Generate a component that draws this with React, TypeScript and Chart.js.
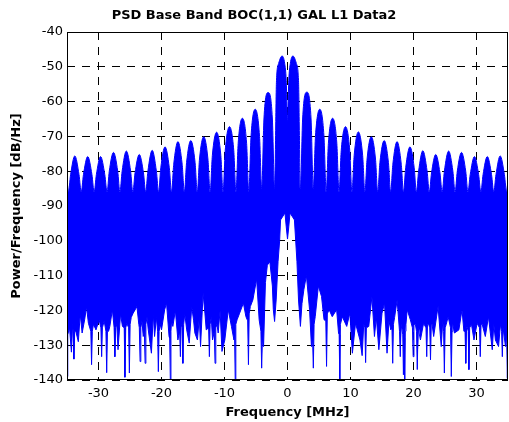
import React, { useEffect, useRef } from 'react';
import { Chart, registerables } from 'chart.js';

Chart.register(...registerables);

const TITLE = 'PSD Base Band BOC(1,1) GAL L1 Data2';
const X_LABEL = 'Frequency [MHz]';
const Y_LABEL = 'Power/Frequency [dB/Hz]';

const xTickValues = [-30, -20, -10, 0, 10, 20, 30];
const yTickValues = [-140, -130, -120, -110, -100, -90, -80, -70, -60, -50, -40];

// Upper edge of the PSD trace: lobe nulls, flanks and peaks [MHz, dB/Hz]
const upperEdge: [number, number][] = [
  [-35.0, -82], [-34.78, -86],
  [-34.43, -81], [-33.76, -75.6], [-33.09, -81], [-32.74, -86],
  [-32.39, -81], [-31.71, -75.8], [-31.04, -81], [-30.69, -86],
  [-30.34, -81], [-29.67, -75.8], [-29.0, -81], [-28.64, -86],
  [-28.29, -80], [-27.62, -74.6], [-26.95, -80], [-26.6, -86],
  [-26.25, -80], [-25.58, -74.2], [-24.9, -80], [-24.55, -86],
  [-24.2, -80.5], [-23.53, -75.2], [-22.86, -80.5], [-22.51, -86],
  [-22.16, -80], [-21.48, -74.0], [-20.81, -80], [-20.46, -86],
  [-20.11, -79], [-19.44, -73.0], [-18.76, -79], [-18.41, -86],
  [-18.06, -78], [-17.39, -71.5], [-16.72, -78], [-16.37, -86],
  [-16.02, -77.5], [-15.35, -71.2], [-14.67, -77.5], [-14.32, -86],
  [-13.97, -76.5], [-13.3, -70.1], [-12.63, -76.5], [-12.28, -86],
  [-11.93, -75.5], [-11.25, -68.8], [-10.58, -75.5], [-10.23, -86],
  [-9.88, -74], [-9.21, -67.2], [-8.53, -74], [-8.18, -86],
  [-7.83, -72], [-7.16, -64.8], [-6.49, -72], [-6.14, -86],
  [-5.79, -70], [-5.12, -62.2], [-4.44, -70], [-4.09, -85],
  [-3.74, -65], [-3.07, -57.4], [-2.4, -65], [-2.05, -85],
  [-1.75, -54], [-1.4, -49], [-0.86, -46.9], [-0.45, -49], [-0.2, -54],
  [0, -66],
  [0.2, -54], [0.45, -49], [0.86, -46.9], [1.4, -49], [1.75, -54], [2.05, -85],
  [2.4, -65], [3.07, -57.3], [3.74, -65], [4.09, -85],
  [4.44, -70], [5.12, -62.2], [5.79, -70], [6.14, -86],
  [6.49, -72], [7.16, -64.8], [7.83, -72], [8.18, -86],
  [8.53, -74], [9.21, -67.2], [9.88, -74], [10.23, -86],
  [10.58, -75.5], [11.25, -68.7], [11.93, -75.5], [12.28, -86],
  [12.63, -76.5], [13.3, -70.1], [13.97, -76.5], [14.32, -86],
  [14.67, -77.5], [15.35, -71.2], [16.02, -77.5], [16.37, -86],
  [16.72, -78], [17.39, -71.5], [18.06, -78], [18.41, -86],
  [18.76, -79], [19.44, -73.0], [20.11, -79], [20.46, -86],
  [20.81, -80], [21.48, -74.1], [22.16, -80], [22.51, -86],
  [22.86, -80.5], [23.53, -75.2], [24.2, -80.5], [24.55, -86],
  [24.9, -80], [25.58, -74.2], [26.25, -80], [26.6, -86],
  [26.95, -80], [27.62, -74.6], [28.29, -80], [28.64, -86],
  [29.0, -81], [29.67, -75.8], [30.34, -81], [30.69, -86],
  [31.04, -81], [31.71, -75.8], [32.39, -81], [32.74, -86],
  [33.09, -81], [33.76, -75.6], [34.43, -81], [34.78, -86],
  [35.0, -82],
];

// Lower (noisy) edge of the PSD trace [MHz, dB/Hz]
const lowerEdge: [number, number][] = [
  [-35.0, -139], [-34.88, -127], [-34.6, -125], [-34.3, -132], [-34.1, -124], [-34.02, -126],
  [-33.9, -134], [-33.78, -126], [-33.6, -126], [-33.2, -129], [-32.9, -121], [-32.6, -126.5],
  [-32.2, -122.7], [-31.9, -119], [-31.6, -123.7], [-31.22, -126], [-31.1, -135.6], [-30.98, -126],
  [-30.8, -124], [-30.4, -125.6], [-29.9, -122.7], [-29.62, -125], [-29.5, -133.3], [-29.38, -125],
  [-29.1, -123], [-28.82, -126], [-28.7, -137.9], [-28.58, -126], [-28.4, -126], [-28.2, -124.6],
  [-27.8, -119.8], [-27.52, -125], [-27.4, -133.3], [-27.28, -125], [-27.1, -124], [-26.9, -131.3],
  [-26.5, -121], [-26.2, -124.6], [-25.92, -125], [-25.8, -139.2], [-25.68, -125], [-25.5, -123.7],
  [-25.22, -125], [-25.1, -138], [-24.98, -124], [-24.8, -122], [-24.5, -120.8], [-23.9, -118.9],
  [-23.6, -124], [-23.52, -125], [-23.4, -134.7], [-23.28, -125], [-23.1, -123], [-22.9, -127.5],
  [-22.72, -126], [-22.6, -135.2], [-22.48, -124], [-22.3, -122], [-22.1, -125.6], [-21.6, -132.3],
  [-21.3, -121], [-21.1, -127.5], [-20.8, -122], [-20.62, -126], [-20.5, -137.6], [-20.38, -126],
  [-20.2, -124], [-20.0, -125.6], [-19.5, -119.8], [-19.2, -117.9], [-18.8, -127.5], [-18.7, -128],
  [-18.6, -140], [-18.5, -126], [-18.4, -123], [-18.2, -124.6], [-17.8, -120], [-17.4, -128.5],
  [-17.12, -126], [-17.0, -133.3], [-16.88, -124], [-16.72, -125], [-16.6, -135.2], [-16.48, -124],
  [-16.3, -121], [-16.0, -125.6], [-15.6, -129.4], [-15.2, -118.9], [-14.9, -123], [-14.7, -126.5],
  [-14.3, -128.5], [-14.0, -122], [-13.8, -130.4], [-13.4, -115.1], [-13.1, -121], [-12.9, -125.6],
  [-12.52, -125], [-12.4, -133.3], [-12.28, -124], [-12.1, -122], [-11.9, -128.5], [-11.62, -126],
  [-11.5, -135.2], [-11.38, -125], [-11.2, -124], [-11.0, -126.5], [-10.7, -120], [-10.4, -131.8],
  [-9.95, -128.5], [-9.4, -119.8], [-8.9, -124.6], [-8.5, -128.5], [-8.4, -127], [-8.3, -140],
  [-8.2, -124], [-8.0, -122.7], [-7.6, -120.8], [-7.0, -117.9], [-6.6, -121.8], [-6.32, -123],
  [-6.2, -135.6], [-6.08, -121], [-5.9, -118.9], [-5.5, -117], [-4.9, -111], [-4.5, -122.7],
  [-4.22, -126], [-4.1, -136.6], [-3.98, -128], [-3.8, -130.4], [-3.5, -112], [-3.2, -107],
  [-2.8, -106], [-2.4, -113], [-2.25, -119.8], [-2.05, -123.2], [-1.8, -117], [-1.5, -106],
  [-1.25, -100], [-1.1, -94], [-0.4, -92], [-0.2, -96], [0, -99.5],
  [0.2, -96], [0.4, -92], [1.1, -94], [1.3, -100], [1.5, -106], [1.75, -117],
  [2.05, -124.6], [2.3, -118], [2.6, -114], [3.0, -110], [3.5, -119.8], [3.8, -130.4],
  [3.98, -128], [4.1, -136.6], [4.22, -124], [4.4, -121.8], [4.9, -113], [5.4, -116],
  [5.8, -122.7], [6.08, -123], [6.2, -136.1], [6.32, -121], [6.6, -119.8], [7.1, -121.8],
  [7.8, -119.8], [8.1, -126.5], [8.2, -127], [8.3, -140], [8.4, -124], [8.7, -121.8],
  [9.4, -124.6], [9.9, -120.8], [10.3, -132.3], [10.8, -123.7], [11.5, -128.5], [11.85, -133],
  [12.1, -124], [12.28, -125], [12.4, -135], [12.52, -125], [12.9, -124.6], [13.4, -116],
  [13.8, -127.5], [14.1, -122], [14.5, -131.3], [15.0, -120.8], [15.4, -117.9], [15.8, -132.3],
  [16.1, -123], [16.4, -125.6], [16.58, -125], [16.7, -135.2], [16.82, -124], [17.0, -122],
  [17.4, -117], [17.78, -126], [17.9, -133.3], [18.02, -124], [18.1, -124], [18.3, -127],
  [18.4, -138.5], [18.5, -128], [18.6, -140], [18.7, -126], [18.8, -124], [19.0, -119.8],
  [19.5, -122.7], [19.83, -125], [19.95, -133.3], [20.07, -124], [20.3, -124], [20.48, -126],
  [20.6, -137], [20.72, -125], [20.85, -125], [21.1, -128.5], [21.6, -123.7], [21.98, -125],
  [22.1, -133.3], [22.22, -124], [22.4, -124], [22.58, -125], [22.7, -134.2], [22.82, -124],
  [22.95, -124], [23.2, -127.5], [23.9, -118.9], [24.4, -130.4], [24.65, -123], [24.78, -126],
  [24.9, -138], [25.02, -125], [25.2, -124], [25.5, -121.8], [25.88, -125], [26.0, -139],
  [26.12, -126], [26.25, -124], [26.5, -126.5], [27.2, -125.6], [27.7, -119.8], [28.0, -126],
  [28.18, -126], [28.3, -135.2], [28.42, -125], [28.55, -125], [28.68, -126], [28.8, -137],
  [28.92, -125], [29.2, -124], [29.6, -128.5], [30.1, -123.7], [30.48, -125], [30.6, -133.3],
  [30.72, -124], [30.9, -124], [31.4, -127.5], [31.9, -121.8], [32.5, -131.3], [32.75, -124],
  [33.0, -128.5], [33.5, -130.4], [33.8, -124], [33.98, -126], [34.1, -133.3], [34.22, -125],
  [34.6, -130.4], [34.78, -127], [34.9, -139.5], [35.0, -126],
];

const BLUE = '#0000ff';
const FONT = 'DejaVu Sans';

const framePlugin = {
  id: 'axesFrame',
  afterDatasetsDraw(chart: any) {
    const { ctx, chartArea } = chart;
    const l = Math.round(chartArea.left);
    const t = Math.round(chartArea.top);
    const r = Math.round(chartArea.right);
    const b = Math.round(chartArea.bottom);
    ctx.save();
    ctx.strokeStyle = '#000';
    ctx.lineWidth = 1;
    ctx.setLineDash([]);
    ctx.strokeRect(l + 0.5, t + 0.5, r - l - 1, b - t - 1);
    ctx.restore();
  },
};

export default function App() {
  const canvasRef = useRef<HTMLCanvasElement | null>(null);

  useEffect(() => {
    const canvas = canvasRef.current;
    if (!canvas) return;
    const chart = new Chart(canvas, {
      type: 'line',
      data: {
        datasets: [
          {
            data: upperEdge.map(([x, y]) => ({ x, y })),
            borderColor: BLUE,
            backgroundColor: BLUE,
            borderWidth: 1,
            pointRadius: 0,
            fill: '+1',
            cubicInterpolationMode: 'monotone',
          },
          {
            data: lowerEdge.map(([x, y]) => ({ x, y })),
            borderColor: BLUE,
            backgroundColor: BLUE,
            borderWidth: 1,
            pointRadius: 0,
            fill: false,
            tension: 0,
          },
        ],
      },
      options: {
        animation: false,
        responsive: false,
        devicePixelRatio: 1,
        layout: { padding: { left: 0, right: 1, top: 0, bottom: 0 } },
        plugins: {
          legend: { display: false },
          tooltip: { enabled: false },
          title: {
            display: true,
            text: TITLE,
            color: '#000',
            font: { family: FONT, size: 13, weight: 'bold' },
            padding: { top: 8, bottom: 8.4 },
          },
        },
        scales: {
          x: {
            type: 'linear',
            min: -35,
            max: 35,
            afterBuildTicks: (scale: any) => {
              scale.ticks = xTickValues.map((v) => ({ value: v }));
            },
            afterFit: (scale: any) => {
              scale.height = 42;
            },
            grid: { color: '#000', lineWidth: 1, drawTicks: false },
            border: { display: false, dash: [8, 7] },
            ticks: {
              color: '#000',
              font: { family: FONT, size: 13 },
              padding: 6,
              maxRotation: 0,
            },
            title: {
              display: true,
              text: X_LABEL,
              color: '#000',
              font: { family: FONT, size: 13, weight: 'bold' },
              padding: { top: 0, bottom: 2 },
            },
          },
          y: {
            type: 'linear',
            min: -140,
            max: -40,
            afterBuildTicks: (scale: any) => {
              scale.ticks = yTickValues.map((v) => ({ value: v }));
            },
            afterFit: (scale: any) => {
              scale.width = 67;
            },
            grid: { color: '#000', lineWidth: 1, drawTicks: false },
            border: { display: false, dash: [8, 7] },
            ticks: {
              color: '#000',
              font: { family: FONT, size: 13 },
              padding: 4,
            },
            title: {
              display: true,
              text: Y_LABEL,
              color: '#000',
              font: { family: FONT, size: 13, weight: 'bold' },
              padding: { top: 9, bottom: 0 },
            },
          },
        },
      },
      plugins: [framePlugin],
    } as any);
    return () => chart.destroy();
  }, []);

  return (
    <div style={{ position: 'absolute', left: 0, top: 0, width: 509, height: 422, background: '#fff' }}>
      <canvas ref={canvasRef} width={509} height={422} style={{ display: 'block', width: 509, height: 422 }} />
    </div>
  );
}
